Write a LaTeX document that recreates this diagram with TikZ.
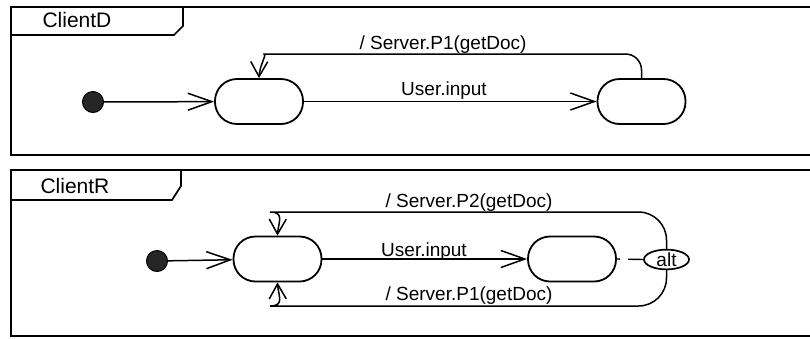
\documentclass[tikz,border=0pt]{standalone}
\usepackage{fontspec}
\setmainfont{Liberation Sans}
\usetikzlibrary{arrows.meta,shapes.geometric,bending}

\begin{document}
\begin{tikzpicture}[x=1pt,y=-1pt,
	frame/.style={line width=1.7pt},
	state/.style={draw,line width=1.8pt,rectangle,rounded corners=22pt,minimum width=88pt,minimum height=45pt},
	init/.style={circle,draw,line width=1pt,fill=black!85,minimum size=21pt,inner sep=0pt},
	trans/.style={line width=1.5pt,-{Straight Barb[length=24pt,width=17pt,line width=1.5pt]}},
	loop/.style={line width=1.5pt,-{Straight Barb[length=15pt,width=17pt,line width=1.5pt]}},
	lbl/.style={anchor=base,font=\fontsize{19}{22}\selectfont},
	title/.style={anchor=base west,font=\fontsize{21}{24}\selectfont}]
		\useasboundingbox (0,0) rectangle (810,338);
		% Frame of ClientD
		\draw[frame] (810,7) -- (11,7) -- (11,155) -- (810,155);
		\draw[frame] (11,35) -- (174,35) -- (183,26) -- (183,7);
		\node[title] (tD) at (39,27) {ClientD};
		% Frame of ClientR
		\draw[frame] (810,170) -- (11,170) -- (11,336) -- (810,336);
		\draw[frame] (11,200) -- (172,200) -- (181,186) -- (181,170);
		\node[title] (tR) at (37,193) {ClientR};

		% ClientD states
		\node[init] (d0) at (93,102) {};
		\node[state] (d1) at (259,101.5) {};
		\node[state] (d2) at (641.5,101.5) {};
		\draw[trans] (d0) -- (d1);
		\draw[trans] (d1) -- (d2);
		\draw[loop] (d2.north) [rounded corners=16pt] |- (280,54) [sharp corners] to[out=180,in=90] (d1.north);
		\node[lbl] (dp1) at (443,49) {/ Server.P1(getDoc)};
		\node[lbl] (din) at (444,95) {User.input};

		% ClientR states
		\node[init] (r0) at (157,261) {};
		\node[state] (r1) at (277.5,259) {};
		\node[state] (r2) at (572,259) {};
		\node[draw,ellipse,line width=1.7pt,minimum width=45pt,minimum height=18pt,inner sep=0pt,
			font=\fontsize{19}{22}\selectfont] (alt) at (666.5,259.5) {alt};
		\draw[trans] (r0) -- (r1);
		\draw[trans] (r1) -- (r2);
		\draw[line width=1.4pt,dash pattern=on 3pt off 8pt on 20pt off 1pt] (r2.east) -- (alt.west);
		\draw[loop] (alt.north) [rounded corners=28pt] |- (298,212) [sharp corners] to[out=180,in=90] (r1.north);
		\draw[loop] (alt.south) [rounded corners=28pt] |- (298,306) [sharp corners] to[out=180,in=-90] (r1.south);
		\node[lbl] (rp2) at (469,207) {/ Server.P2(getDoc)};
		\node[lbl] (rin) at (424,256) {User.input};
		\node[lbl] (rp1) at (469,300) {/ Server.P1(getDoc)};
\end{tikzpicture}
\end{document}
